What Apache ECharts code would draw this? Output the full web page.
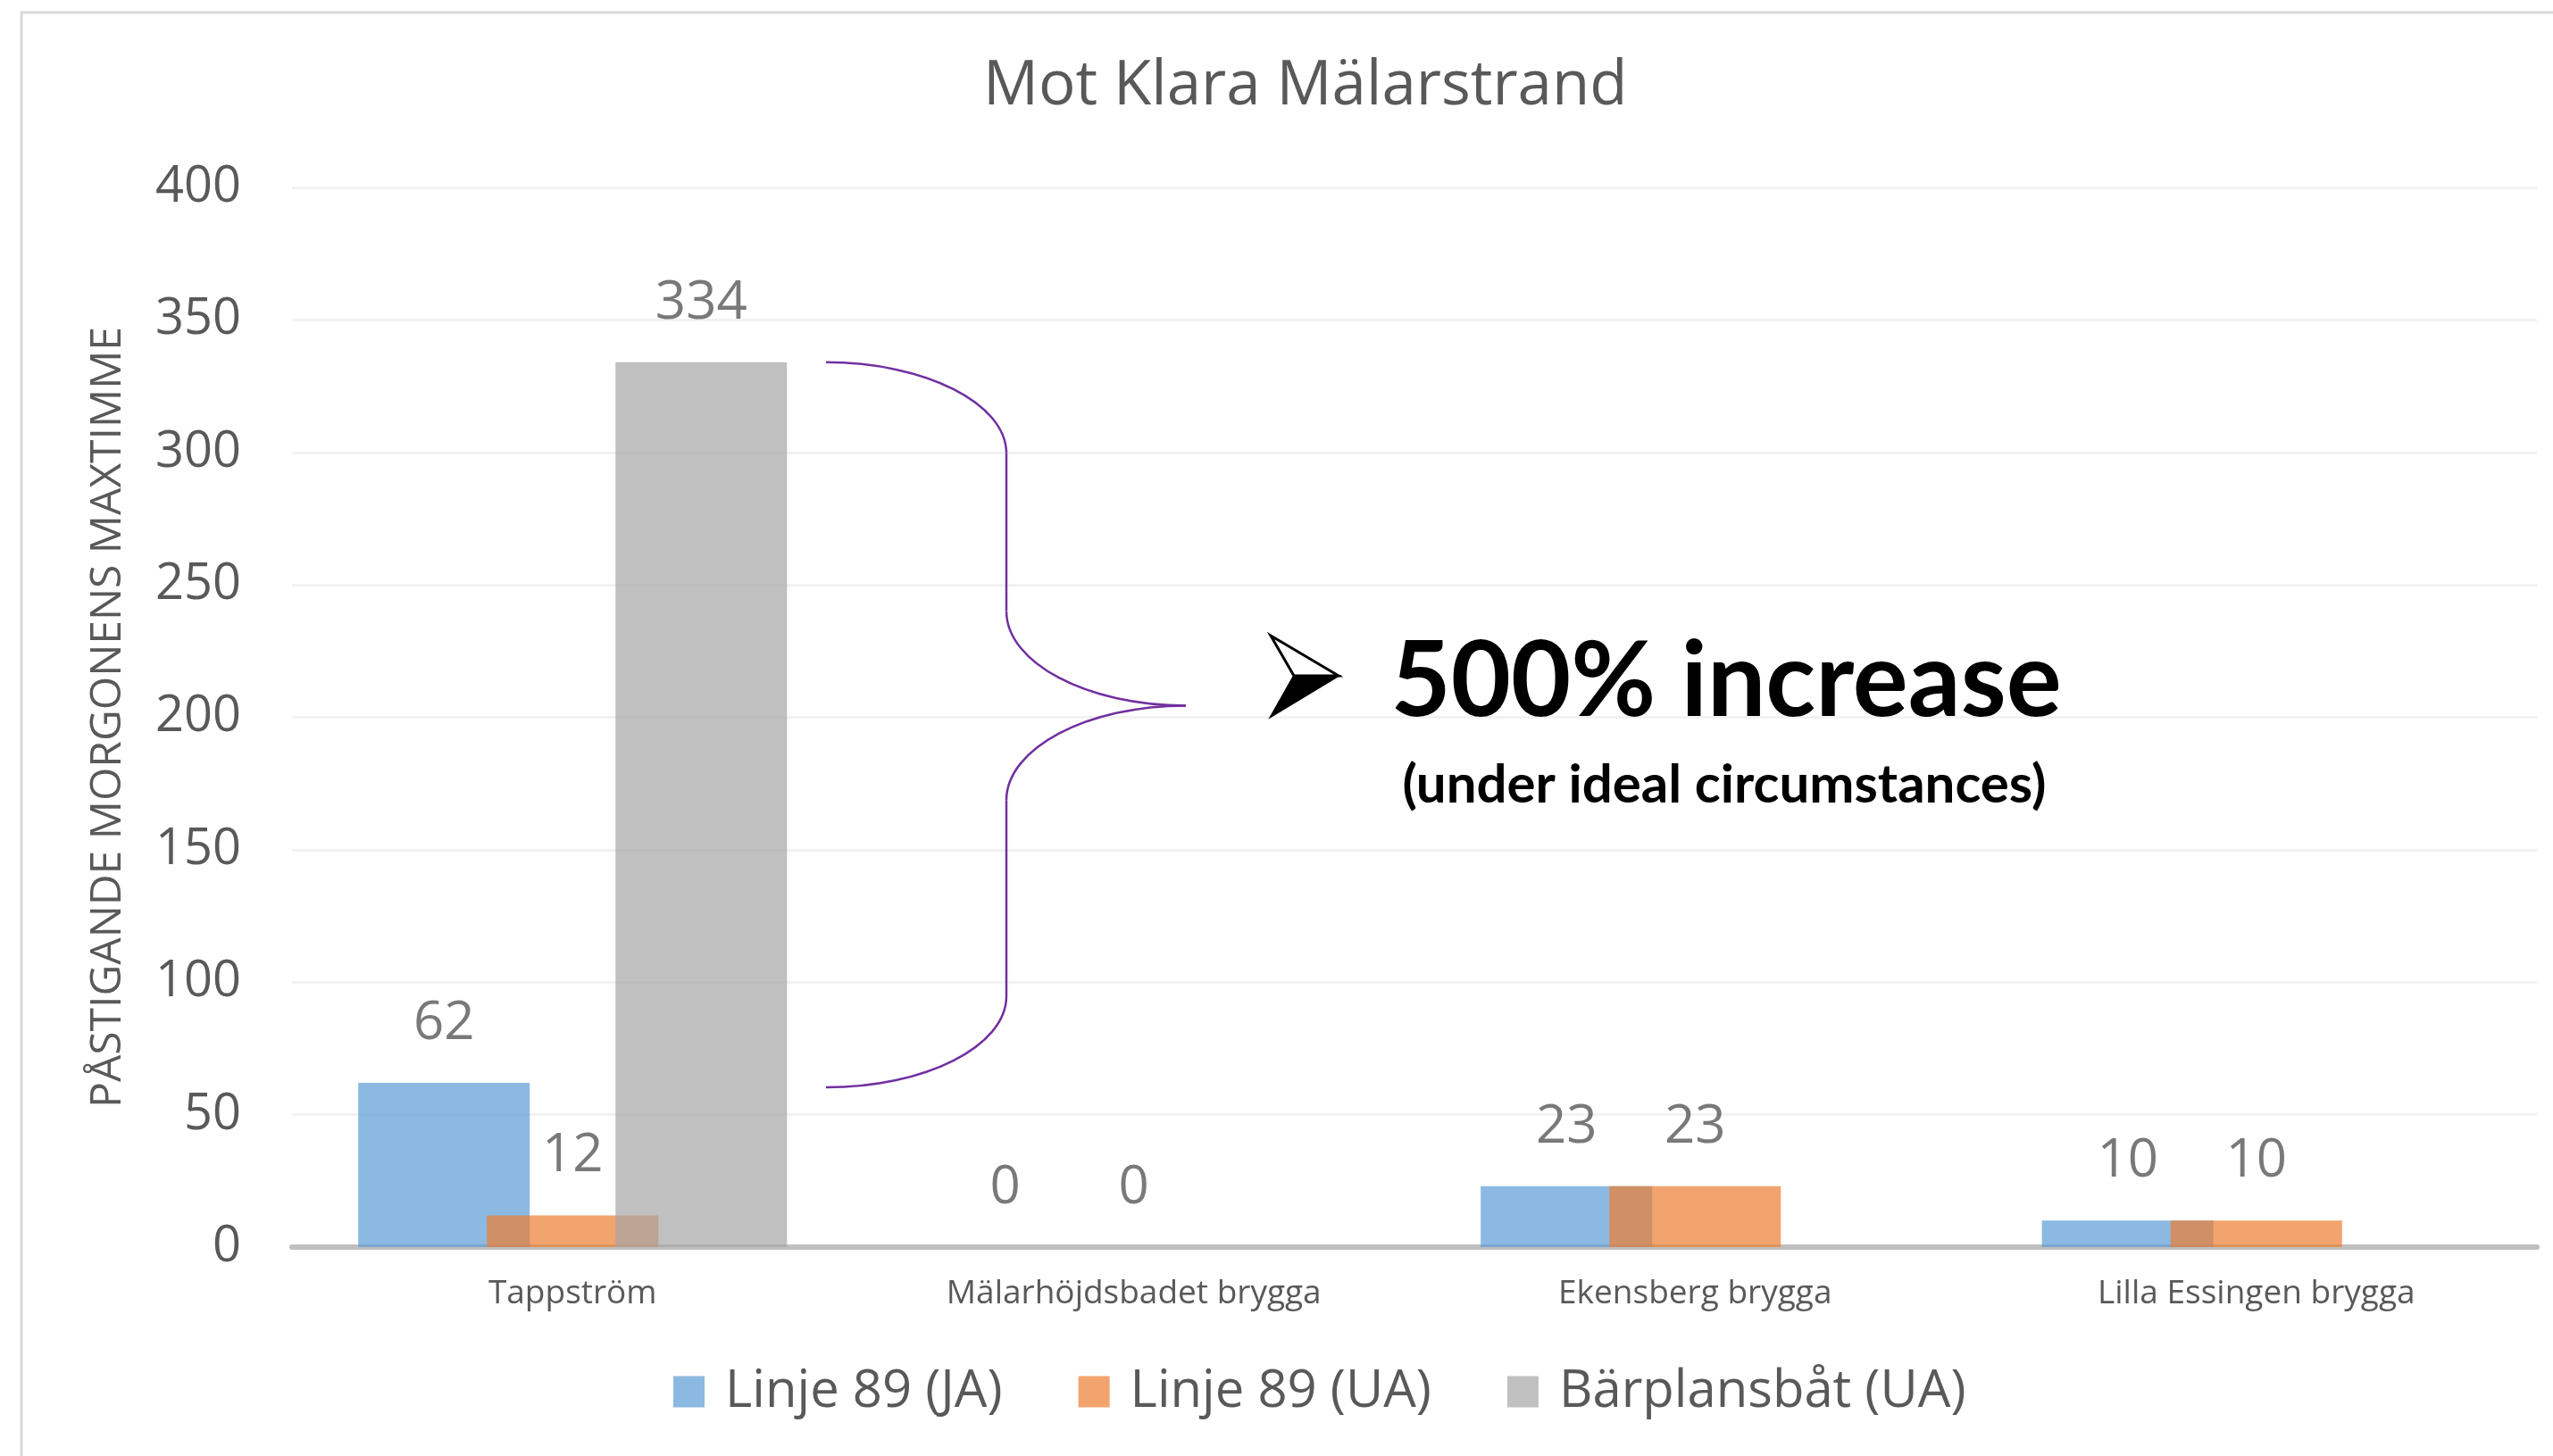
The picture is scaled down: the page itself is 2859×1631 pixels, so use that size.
<!DOCTYPE html>
<html>
<head>
<meta charset="utf-8">
<title>Mot Klara Mälarstrand</title>
<script src="https://cdn.jsdelivr.net/npm/echarts@6/dist/echarts.min.js"></script>
<style>
  html, body { margin: 0; padding: 0; background: #fff; }
  #chart { width: 2859px; height: 1631px; }
</style>
</head>
<body>
<div id="chart"></div>
<script>
// data
const categories = ['Tappström', 'Mälarhöjdsbadet brygga', 'Ekensberg brygga', 'Lilla Essingen brygga'];
const seriesNames = ['Linje 89 (JA)', 'Linje 89 (UA)', 'Bärplansbåt (UA)'];
const linje89JA = [62, 0, 23, 10];
const linje89UA = [12, 0, 23, 10];
const barplansbat = [334, null, null, null];
const yMin = 0, yMax = 400, yStep = 50;

const colors = ['#5B9BD5', '#ED7D31', '#A5A5A5'];
const FONT = '"Open Sans", "Liberation Sans", sans-serif';
const BRACE = '#7030A0';

function barSeries(name, data, color) {
  return {
    name: name,
    type: 'bar',
    data: data,
    barGap: '-25%',
    barCategoryGap: '23.6%',
    itemStyle: { color: color, opacity: 0.7 },
    label: {
      show: true,
      position: 'top',
      distance: 36,
      fontFamily: FONT,
      fontSize: 60,
      color: '#404040'
    }
  }
}

const chart = echarts.init(document.getElementById('chart'));

chart.setOption({
  backgroundColor: '#fff',
  animation: false,
  title: {
    text: 'Mot Klara Mälarstrand',
    left: 1096,
    top: 58,
    textStyle: { fontFamily: FONT, fontSize: 69, fontWeight: 'normal', color: '#595959' }
  },
  legend: {
    data: seriesNames,
    left: 754,
    top: 1530,
    padding: 0,
    icon: 'rect',
    itemWidth: 35,
    itemHeight: 35,
    itemGap: 85,
    textStyle: { fontFamily: FONT, fontSize: 58, color: '#595959', padding: [0, 0, 0, 18] }
  },
  grid: { left: 327, right: 18, top: 210, bottom: 234 },
  xAxis: {
    type: 'category',
    data: categories,
    axisLine: { lineStyle: { color: '#BFBFBF', width: 6 } },
    axisTick: { show: false },
    axisLabel: { fontFamily: FONT, fontSize: 37, color: '#595959', margin: 34 }
  },
  yAxis: {
    type: 'value',
    min: yMin,
    max: yMax,
    interval: yStep,
    name: 'PÅSTIGANDE MORGONENS MAXTIMME',
    nameLocation: 'middle',
    nameGap: 182,
    nameTextStyle: { fontFamily: FONT, fontSize: 48, color: '#595959' },
    axisLine: { show: false },
    axisTick: { show: false },
    axisLabel: { fontFamily: FONT, fontSize: 56, color: '#595959', margin: 57 },
    splitLine: { lineStyle: { color: '#F2F2F2', width: 3 } }
  },
  series: [
    barSeries(seriesNames[0], linje89JA, colors[0]),
    barSeries(seriesNames[1], linje89UA, colors[1]),
    barSeries(seriesNames[2], barplansbat, colors[2])
  ]
});

// brace from top of the tall bar down to top of the first bar
const yTop = chart.convertToPixel({ yAxisIndex: 0 }, barplansbat[0]);
const yBot = chart.convertToPixel({ yAxisIndex: 0 }, linje89JA[0]) + 5;
const yTip = yTop + 0.4735 * (yBot - yTop);
const xa = 925, xb = 1127, xc = 1328;

function curve(x1, y1, cx1, cy1, cx2, cy2, x2, y2) {
  return {
    type: 'bezierCurve', silent: true,
    shape: { x1: x1, y1: y1, cpx1: cx1, cpy1: cy1, cpx2: cx2, cpy2: cy2, x2: x2, y2: y2 },
    style: { fill: 'none', stroke: BRACE, lineWidth: 2.5 }
  }
}
function seg(x1, y1, x2, y2) {
  return {
    type: 'line', silent: true,
    shape: { x1: x1, y1: y1, x2: x2, y2: y2 },
    style: { stroke: BRACE, lineWidth: 2.5 }
  }
}

chart.setOption({
  graphic: [
    {
      type: 'rect', silent: true, z: -1,
      shape: { x: 24, y: 14, width: 2900, height: 1700 },
      style: { fill: 'none', stroke: '#D9D9D9', lineWidth: 3 }
    },
    curve(xa, yTop, xa + 111, yTop, xb, yTop + 46, xb, yTop + 102),
    seg(xb, yTop + 102, xb, yTip - 106),
    curve(xb, yTip - 106, xb, yTip - 48, xc - 111, yTip, xc, yTip),
    curve(xc, yTip, xc - 111, yTip, xb, yTip + 48, xb, yTip + 106),
    seg(xb, yTip + 106, xb, yBot - 102),
    curve(xb, yBot - 102, xb, yBot - 46, xa + 111, yBot, xa, yBot),
    // arrowhead bullet
    {
      type: 'polygon', silent: true,
      shape: { points: [[1423, 712], [1499, 757], [1449, 757]] },
      style: { fill: '#fff', stroke: '#000', lineWidth: 3 }
    },
    {
      type: 'polygon', silent: true,
      shape: { points: [[1449, 757], [1499, 757], [1423, 803]] },
      style: { fill: '#000', stroke: '#000', lineWidth: 2 }
    },
    {
      type: 'text', silent: true,
      style: {
        x: 1933, y: 765, text: '500% increase',
        fontFamily: 'Lato, "Open Sans", sans-serif', fontSize: 116, fontWeight: 'bold',
        fill: '#000', align: 'center', verticalAlign: 'middle'
      }
    },
    {
      type: 'text', silent: true,
      style: {
        x: 1931, y: 880, text: '(under ideal circumstances)',
        fontFamily: 'Lato, "Open Sans", sans-serif', fontSize: 60, fontWeight: 'bold',
        fill: '#000', align: 'center', verticalAlign: 'middle'
      }
    }
  ]
});
</script>
</body>
</html>
